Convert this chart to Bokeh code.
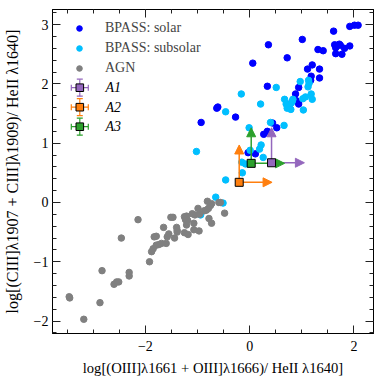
import numpy as np
from bokeh.plotting import figure
from bokeh.models import (Arrow, NormalHead, Legend, LegendItem, LinearAxis, FixedTicker,
                          Range1d, ColumnDataSource, Whisker, TeeHead, BoxAnnotation, Label,
                          CustomJSTickFormatter)
from bokeh.embed import file_html
from bokeh.resources import INLINE

# ---------------- data ----------------
solar_x = [1.61, 1.92, 2.01, 2.08, 1.01, 0.36, 1.63, 1.72, 1.65, 1.74, 1.82, 1.92, 1.77, 1.65,
           1.31, 1.41, 0.72, 0.06, 1.20, 1.11, 1.34, 1.18, 1.34, 1.17, 0.94, 0.34, 0.88,
           -0.63, -0.61, -0.27, -0.93, 0.77, 0.94, 0.89, 0.27, 0.44, 0.52, 0.34, -0.03, 0.11]
solar_y = [2.89, 2.97, 2.99, 2.99, 2.75, 2.66, 2.66, 2.67, 2.61, 2.65, 2.60, 2.64, 2.50, 2.51,
           2.58, 2.56, 2.44, 2.35, 2.32, 2.25, 2.25, 2.13, 2.10, 2.06, 1.94, 1.96, 1.83,
           1.59, 1.61, 1.44, 1.35, 1.66, 1.66, 1.72, 1.15, 1.34, 1.26, 1.20, 0.84, 0.82]

subsolar_x = [-0.16, -0.46, 0.21, 0.51, 0.97, 1.13, 1.14, 1.12, 1.18, 1.07, 1.02, 1.20,
              0.67, 0.83, 0.70, 0.80, 0.72, 0.79, 1.03, 0.82, 0.66, 0.40, -0.01,
              -1.02, 0.22, 0.19, 0.26, 0.01, -0.15, -0.08, -0.14, -0.46, -0.65, -0.51, -0.94]
subsolar_y = [1.83, 1.53, 1.66, 1.94, 2.04, 2.06, 2.01, 1.95, 1.83, 1.78, 1.75, 1.74,
              1.74, 1.74, 1.66, 1.68, 1.59, 1.57, 1.56, 1.71, 1.30, 1.35, 1.26,
              0.86, 0.97, 0.90, 0.76, 0.88, 0.68, 0.65, 0.50, 0.38, 0.09, -0.01, -0.21]

agn_x = [-3.46, -3.45, -3.18, -2.87, -2.83, -2.60, -2.55, -2.51, -2.46, -2.31, -2.31,
         -2.14, -1.92, -1.88, -1.85, -1.83, -1.79, -1.79, -1.74, -1.69, -1.65, -1.60, -1.58, -1.55,
         -1.51, -1.47, -1.44, -1.40, -1.39, -1.39, -1.25, -1.23, -1.21, -1.19, -1.21, -1.25, -1.18,
         -1.10, -1.05, -1.07, -1.07, -0.97, -0.99, -0.96, -0.87, -0.83, -0.79, -0.75, -0.81, -0.73,
         -0.78, -0.73, -0.59, -0.56, -0.48]
agn_y = [-1.59, -1.61, -1.97, -1.69, -1.15, -1.38, -1.34, -1.34, -0.60, -1.18, -1.24,
         -0.29, -1.00, -0.83, -0.78, -0.58, -0.57, -0.72, -0.71, -0.69, -0.42, -0.69, -0.58, -0.53,
         -0.25, -0.25, -0.60, -0.42, -0.47, -0.50, -0.24, -0.29, -0.23, -0.30, -0.38, -0.51, -0.54,
         -0.19, -0.21, -0.35, -0.46, -0.48, -0.10, -0.20, -0.14, -0.13, -0.10, -0.05, 0.02, -0.02,
         -0.27, -0.35, 0.00, 0.00, -0.18]

obj_names = ["A1", "A2", "A3"]
obj_x = [0.42, -0.20, 0.03]
obj_y = [0.67, 0.34, 0.66]
obj_colors = ["#9467bd", "#ff7f0e", "#2ca02c"]
limit_dx = [0.63, 0.63, 0.64]
limit_dy = [0.59, 0.63, 0.60]

x_ticks = [-2, 0, 2]
x_tick_labels = ["\u22122", "0", "2"]
y_ticks = [-2, -1, 0, 1, 2, 3]
y_tick_labels = ["\u22122", "\u22121", "0", "1", "2", "3"]

FONT = "Liberation Serif"
FRAME_W, FRAME_H = 321, 324

p = figure(frame_width=FRAME_W, frame_height=FRAME_H,
           x_range=Range1d(-3.78, 2.375), y_range=Range1d(-2.21, 3.255),
           output_backend="svg", toolbar_location=None,
           min_border_left=51, min_border_right=10, min_border_top=9, min_border_bottom=49)
p.grid.visible = False
p.outline_line_color = "black"
p.outline_line_width = 1

x_minor = list(np.round(np.arange(-3.5, 2.5, 0.5), 2))
y_minor = list(np.round(np.arange(-2.2, 3.3, 0.2), 2))


def style_axis(ax, ticks, minor, labels, show):
    ax.ticker = FixedTicker(ticks=ticks, minor_ticks=minor)
    ax.axis_line_color = "black"
    ax.major_tick_in = 8
    ax.major_tick_out = 0
    ax.minor_tick_in = 4
    ax.minor_tick_out = 0
    ax.major_tick_line_color = "#222222"
    ax.minor_tick_line_color = "#222222"
    ax.major_label_text_font = FONT
    ax.major_label_text_color = "black"
    ax.axis_label_text_font = FONT
    ax.axis_label_text_font_style = "normal"
    ax.axis_label_text_color = "black"
    if show:
        ax.major_label_overrides = {t: l for t, l in zip(ticks, labels)}
        ax.major_label_text_font_size = "14px"
    else:
        ax.formatter = CustomJSTickFormatter(code="return '';")
        ax.major_label_standoff = 0
        ax.axis_label_standoff = 0


style_axis(p.xaxis[0], x_ticks, x_minor, x_tick_labels, True)
style_axis(p.yaxis[0], y_ticks, y_minor, y_tick_labels, True)
p.xaxis[0].major_label_standoff = 7
p.yaxis[0].major_label_standoff = 4
p.xaxis[0].axis_label = "log[(OIII]\u03bb1661 + OIII]\u03bb1666)/ HeII \u03bb1640]"
p.yaxis[0].axis_label = "log[(CIII]\u03bb1907 + CIII]\u03bb1909)/ HeII \u03bb1640]"
p.xaxis[0].axis_label_text_font_size = "14.6px"
p.yaxis[0].axis_label_text_font_size = "16px"
p.xaxis[0].axis_label_standoff = 6
p.yaxis[0].axis_label_standoff = 10

top_ax = LinearAxis()
style_axis(top_ax, x_ticks, x_minor, x_tick_labels, False)
p.add_layout(top_ax, "above")
right_ax = LinearAxis()
style_axis(right_ax, y_ticks, y_minor, y_tick_labels, False)
p.add_layout(right_ax, "right")

r_solar = p.scatter(solar_x, solar_y, size=6.5, color="#0000ff")
r_sub = p.scatter(subsolar_x, subsolar_y, size=6.5, color="#00bfff")
r_agn = p.scatter(agn_x, agn_y, size=6.5, color="#808080")

for name, x0, y0, c, dx, dy in zip(obj_names, obj_x, obj_y, obj_colors, limit_dx, limit_dy):
    src = ColumnDataSource(dict(x0=[x0, x0], y0=[y0, y0], x1=[x0 + dx, x0], y1=[y0, y0 + dy]))
    p.add_layout(Arrow(end=NormalHead(size=9, fill_color=c, line_color=c, line_width=1),
                       x_start="x0", y_start="y0", x_end="x1", y_end="y1", source=src,
                       line_color=c, line_width=1.5))
for name, x0, y0, c in zip(obj_names, obj_x, obj_y, obj_colors):
    sq = p.scatter([x0], [y0], marker="square", size=8, fill_color=c, line_color="black", line_width=1)
    sq.level = "overlay"

# legend: model families (Bokeh legend, location relative to frame bottom-left)
leg1 = Legend(items=[LegendItem(label="BPASS: solar", renderers=[r_solar]),
                     LegendItem(label="BPASS: subsolar", renderers=[r_sub]),
                     LegendItem(label="AGN", renderers=[r_agn])],
              location=(20, 255), margin=0, padding=0, spacing=0,
              glyph_width=14, glyph_height=20, label_height=20, label_standoff=19,
              label_text_font=FONT, label_text_font_size="14px",
              border_line_alpha=0, background_fill_alpha=0)
p.add_layout(leg1)

# legend: objects with error-bar glyphs (screen units relative to the frame)
LEG_X = 27.3          # glyph centre, px from frame left
LEG_Y0 = 245.8        # first object row centre, px from frame bottom
LEG_DY = 19.5
for i, name in enumerate(obj_names):
    yc = LEG_Y0 - i * LEG_DY
    p.add_layout(Label(x=53, y=yc, x_units="screen", y_units="screen", text=name,
                       text_font=FONT, text_font_size="14px", text_font_style="italic",
                       text_baseline="middle", text_align="left", text_color="#000000"))
for i, (name, c) in enumerate(zip(obj_names, obj_colors)):
    yc = LEG_Y0 - i * LEG_DY
    for dim, base, lo, hi in (("height", LEG_X, yc - 8.5, yc + 8.5),
                              ("width", yc, LEG_X - 8.5, LEG_X + 8.5)):
        ws = ColumnDataSource(dict(b=[base], lo=[lo], hi=[hi]))
        p.add_layout(Whisker(source=ws, base="b", lower="lo", upper="hi", dimension=dim,
                             base_units="screen", lower_units="screen", upper_units="screen",
                             line_color=c, line_width=1.2,
                             lower_head=TeeHead(size=6, line_color=c, line_width=1.2),
                             upper_head=TeeHead(size=6, line_color=c, line_width=1.2)))
    p.add_layout(BoxAnnotation(left=LEG_X - 3.8, right=LEG_X + 3.8, bottom=yc - 3.8, top=yc + 3.8,
                               left_units="screen", right_units="screen",
                               bottom_units="screen", top_units="screen",
                               fill_color=c, fill_alpha=1, line_color="black", line_width=1,
                               line_alpha=1))

open("out.html", "w").write(file_html(p, INLINE))
